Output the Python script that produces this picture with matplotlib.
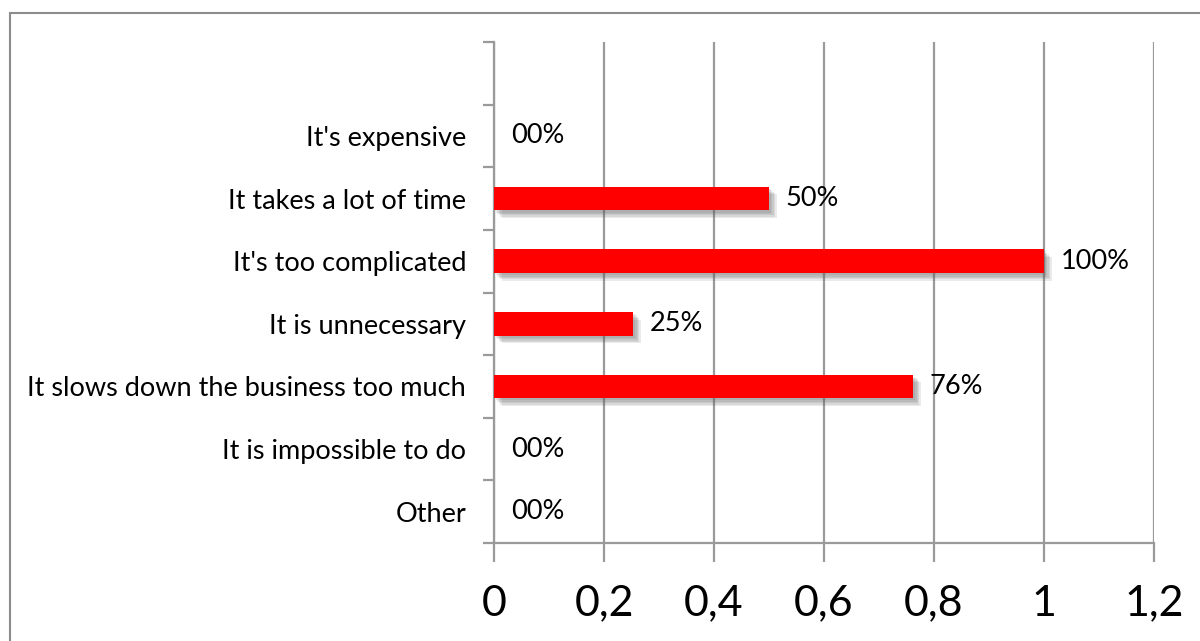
import matplotlib
matplotlib.use("Agg")
import matplotlib.pyplot as plt
import matplotlib.patheffects as pe
from matplotlib.patches import Rectangle
import numpy as np

categories = ["Other", "It is impossible to do", "It slows down the business too much",
              "It is unnecessary", "It's too complicated", "It takes a lot of time",
              "It's expensive", ""]
values = [0.0, 0.0, 0.762, 0.253, 1.0, 0.5, 0.0, np.nan]
value_labels = ["00%", "00%", "76%", "25%", "100%", "50%", "00%", ""]
xticks = [0, 0.2, 0.4, 0.6, 0.8, 1.0, 1.2]
xtick_labels = ["0", "0,2", "0,4", "0,6", "0,8", "1", "1,2"]

plt.rcParams['font.family'] = ['Lato', 'DejaVu Sans']

fig = plt.figure(figsize=(12, 6.41), dpi=100)
ax = fig.add_axes([494/1200, 1-543/641, (1154-494)/1200, (543-42)/641])

# outer chart frame (cropped)
fig.patches.append(Rectangle((10/1200, -0.1), 1.2, 1-13/641+0.1, transform=fig.transFigure,
                             fill=False, edgecolor='#8c8c8c', linewidth=1.5, zorder=0))

y = np.arange(len(categories))
grey = '#9a9a9a'
ax.set_xlim(0, 1.2)
ax.set_ylim(-0.5, len(categories)-0.5)
ax.set_xticks(xticks)
ax.set_xticklabels(xtick_labels, fontsize=31)
ax.xaxis.grid(True, color=grey, linewidth=1.6)
ax.set_axisbelow(True)

ax.set_yticks(y)
ax.set_yticklabels(categories, fontsize=19.5)
ax.set_yticks(np.arange(-0.5, len(categories), 1.0), minor=True)
ax.tick_params(axis='y', which='major', length=0, pad=20)
ax.tick_params(axis='y', which='minor', length=8, color=grey, width=1.6)
ax.tick_params(axis='x', length=14, color=grey, width=1.6, pad=16)

for s in ['top', 'right']:
    ax.spines[s].set_visible(False)
for s in ['left', 'bottom']:
    ax.spines[s].set_color(grey)
    ax.spines[s].set_linewidth(1.6)

vals = np.array(values, dtype=float)
widths = np.nan_to_num(vals)
bars = ax.barh(y[widths > 0], widths[widths > 0], height=0.38, color='#ff0000',
               linewidth=0, zorder=3)
shadow = [pe.SimplePatchShadow(offset=(o, -o), shadow_rgbFace='#606060', alpha=0.13)
          for o in (1.5, 2.5, 3.5, 4.5, 5.5)]
for b in bars:
    b.set_path_effects(shadow + [pe.Normal()])

for yi, v, lab in zip(y, vals, value_labels):
    if np.isnan(v):
        continue
    ax.annotate(lab, (v, yi), xytext=(12, 0), textcoords='offset points',
                va='center', ha='left', fontsize=19.5, color='black')

fig.savefig("out.png", dpi=100, facecolor='white')
